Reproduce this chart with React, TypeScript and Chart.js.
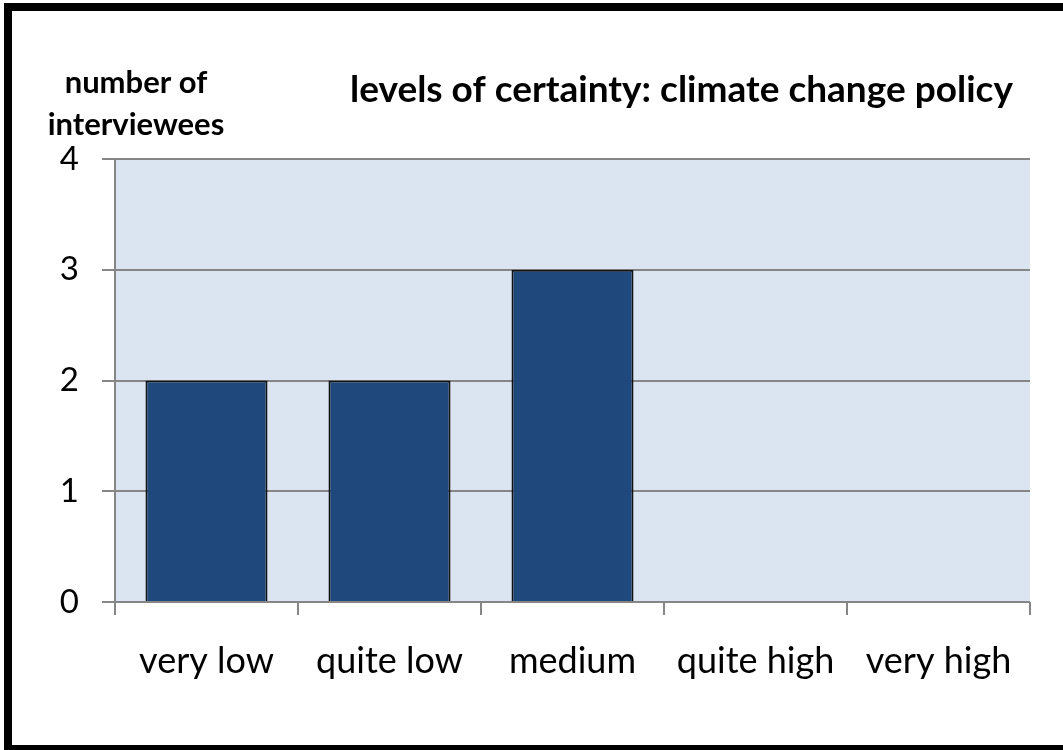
import React, { useEffect, useRef } from "react";
import { Chart, registerables } from "chart.js";

Chart.register(...registerables);

const categories = ["very low", "quite low", "medium", "quite high", "very high"];
const interviewees = [2, 2, 3, 0, 0];
const yTicks = [0, 1, 2, 3, 4];
const chartTitle = "levels of certainty: climate change policy";
const yTitleLines = ["number of", "interviewees"];

const FONT = "Lato, 'Open Sans', sans-serif";

const decorPlugin = {
  id: "decor",
  beforeDraw(chart: any) {
    const { ctx, chartArea } = chart;
    ctx.save();
    ctx.fillStyle = "#dbe5f1";
    ctx.fillRect(chartArea.left, chartArea.top, chartArea.right - chartArea.left, chartArea.bottom - chartArea.top);
    ctx.restore();
  },
  afterDraw(chart: any) {
    const { ctx } = chart;
    ctx.save();
    ctx.fillStyle = "#000";
    ctx.textBaseline = "alphabetic";
    ctx.font = `bold 37px ${FONT}`;
    ctx.textAlign = "left";
    ctx.fillText(chartTitle, 350, 102);
    ctx.font = `bold 31px ${FONT}`;
    ctx.textAlign = "center";
    ctx.fillText(yTitleLines[0], 136, 93);
    ctx.fillText(yTitleLines[1], 136, 135);
    ctx.restore();
  },
};

export default function App() {
  const ref = useRef<HTMLCanvasElement | null>(null);
  useEffect(() => {
    if (!ref.current) return;
    const chart = new Chart(ref.current, {
      type: "bar",
      data: {
        labels: categories,
        datasets: [
          {
            data: interviewees,
            backgroundColor: "#1f497d",
            borderColor: "#111",
            borderWidth: 2,
            barPercentage: 0.667,
            categoryPercentage: 1,
          },
        ],
      },
      options: {
        animation: false,
        responsive: false,
        maintainAspectRatio: false,
        layout: { padding: { top: 159, right: 33, left: 0, bottom: 0 } },
        plugins: { legend: { display: false }, tooltip: { enabled: false }, title: { display: false } },
        scales: {
          x: {
            grid: {
              offset: true,
              drawOnChartArea: false,
              drawTicks: true,
              tickLength: 13,
              color: "#868686",
              lineWidth: 2,
            },
            border: { display: false },
            ticks: { color: "#000", padding: 25, font: { family: FONT, size: 36 } },
            afterFit(scale: any) {
              scale.height = 148;
            },
          },
          y: {
            min: 0,
            max: 4,
            afterBuildTicks(scale: any) {
              scale.ticks = yTicks.map((v) => ({ value: v }));
            },
            grid: { color: "#868686", lineWidth: 2, tickLength: 13, drawTicks: true },
            border: { display: true, color: "#868686", width: 2 },
            ticks: { color: "#000", padding: 23, font: { family: FONT, size: 33 } },
            afterFit(scale: any) {
              scale.width = 115;
            },
          },
        },
      },
      plugins: [decorPlugin],
    });
    return () => chart.destroy();
  }, []);
  return (
    <div style={{ position: "fixed", left: 0, top: 0, width: 1063, height: 750, overflow: "hidden", background: "#fff" }}>
      <canvas ref={ref} width={1063} height={750} style={{ position: "absolute", left: 0, top: 0, width: 1063, height: 750 }} />
      <div
        style={{
          position: "absolute",
          left: 4,
          top: 3,
          width: 1080,
          height: 750,
          border: "8px solid #000",
          boxSizing: "border-box",
          pointerEvents: "none",
        }}
      />
    </div>
  );
}
